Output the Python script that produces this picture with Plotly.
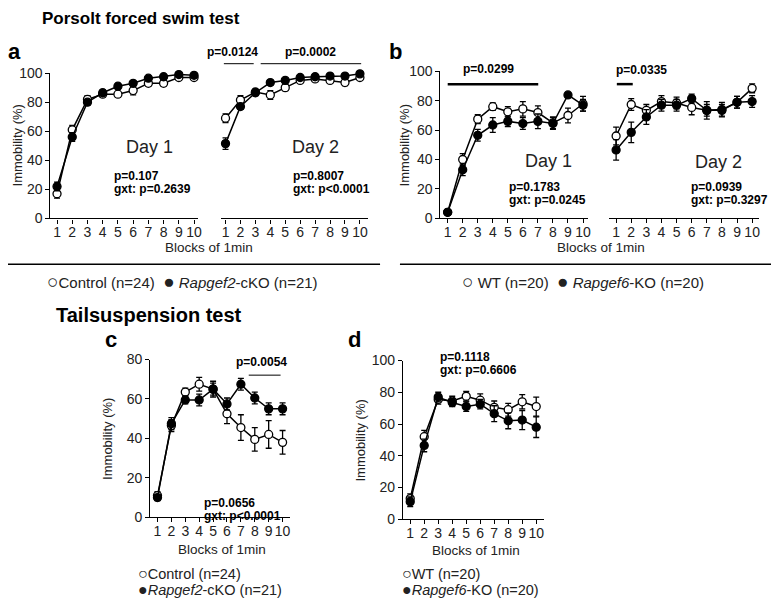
import plotly.graph_objects as go

# a página tem 8 px de margem; coordenadas abaixo estão em pixels da captura
W, H = 771, 599
OFF = 8

# blocos de 1 min
blocks = [1, 2, 3, 4, 5, 6, 7, 8, 9, 10]

# a: Porsolt, Control vs Rapgef2-cKO
a_d1_ctrl = [17, 61, 82, 85.5, 85.5, 88, 93, 93, 97, 97]
a_d1_ctrl_err = [3, 3, 2.5, 2, 2, 3, 2, 2, 1.5, 1.5]
a_d1_ko = [22, 56, 80, 86.5, 91, 93, 96.5, 97.5, 99, 98.5]
a_d1_ko_err = [3, 3, 2, 2, 2, 1.5, 1, 1, 1, 1]
a_d2_ctrl = [69, 81.5, 87, 85, 90, 95, 96, 95, 93.5, 97]
a_d2_ctrl_err = [3, 3, 2, 3, 2, 1.5, 1, 1.5, 2, 1]
a_d2_ko = [51.5, 77, 86.5, 93.5, 95, 97, 97.5, 98, 98, 99.5]
a_d2_ko_err = [4, 2, 2, 1.5, 1, 1, 1, 1, 1, 1]

# b: Porsolt, WT vs Rapgef6-KO
b_d1_wt = [4, 40, 67.5, 76, 72.5, 74.5, 72, 65, 70, 78]
b_d1_wt_err = [1, 4, 3, 2.5, 3.5, 5, 4.5, 4, 5, 5]
b_d1_ko = [4, 33, 56.5, 63.5, 66, 64.5, 66, 64.5, 84, 77]
b_d1_ko_err = [1, 4, 4, 5, 3.5, 4, 5, 4, 1.5, 4]
b_d2_wt = [56, 77.5, 73.5, 79.5, 78.5, 75.5, 73.5, 74, 79, 88.5]
b_d2_wt_err = [6, 4, 4, 4, 4, 5, 6, 5, 4, 3]
b_d2_ko = [46.5, 58.5, 69, 77, 77, 81.5, 73.5, 73.5, 79, 79.5]
b_d2_ko_err = [7, 7, 5, 4, 4, 3, 4, 4, 4, 4]

# c: tail suspension, Control vs Rapgef2-cKO
c_ctrl = [11, 46.5, 63.5, 67.5, 65, 52.5, 45.5, 39.5, 42, 38]
c_ctrl_err = [2, 3, 2, 3.5, 3, 5, 6.5, 6, 7, 6]
c_ko = [10, 47.5, 59.5, 59.5, 65, 57.5, 67.5, 60.5, 55, 55]
c_ko_err = [1.5, 3, 2, 3, 4, 3, 3, 3, 3, 3]

# d: tail suspension, WT vs Rapgef6-KO
d_wt = [13, 52, 75.5, 74.5, 77.5, 75, 70.5, 69, 74, 71]
d_wt_err = [3, 4, 3, 3, 3, 4, 4, 4, 4.5, 6]
d_ko = [11, 46.5, 77, 73.5, 71, 72.5, 66.5, 62, 62.5, 58]
d_ko_err = [3, 4, 3, 2.5, 3, 3, 5, 5, 6, 6.5]

FONT = "Liberation Sans, Arial, sans-serif"


def X(p):
    return (p - OFF) / W


def Y(p):
    return 1 - (p - OFF) / H


def serie(x, y, err, xa, ya, cheio):
    return go.Scatter(
        x=x, y=y, xaxis=xa, yaxis=ya, mode="lines+markers",
        line=dict(color="black", width=1.5),
        marker=dict(size=8, symbol="circle",
                    color="black" if cheio else "white",
                    line=dict(color="black", width=1.3)),
        error_y=dict(type="data", array=err, color="black", thickness=1.3, width=3),
        cliponaxis=False, showlegend=False,
    )


fig = go.Figure()
# abertos primeiro, cheios por cima
for xa, ya, yo, eo, yf, ef in [
    ("x", "y", a_d1_ctrl, a_d1_ctrl_err, a_d1_ko, a_d1_ko_err),
    ("x2", "y", a_d2_ctrl, a_d2_ctrl_err, a_d2_ko, a_d2_ko_err),
    ("x3", "y2", b_d1_wt, b_d1_wt_err, b_d1_ko, b_d1_ko_err),
    ("x4", "y2", b_d2_wt, b_d2_wt_err, b_d2_ko, b_d2_ko_err),
    ("x5", "y3", c_ctrl, c_ctrl_err, c_ko, c_ko_err),
    ("x6", "y4", d_wt, d_wt_err, d_ko, d_ko_err),
]:
    fig.add_trace(serie(blocks, yo, eo, xa, ya, False))
    fig.add_trace(serie(blocks, yf, ef, xa, ya, True))

eixo = dict(showline=True, linecolor="black", linewidth=1.2, ticks="outside",
            ticklen=4, tickwidth=1.2, tickcolor="black", showgrid=False,
            zeroline=False, tickfont=dict(size=14, color="#222", family=FONT))


def xax(l, r, rng, anchor):
    return dict(eixo, domain=[X(l), X(r)], range=rng, anchor=anchor,
                tickvals=blocks, ticklabelstandoff=-3)


def yax(b, t, rng, anchor, step):
    return dict(eixo, domain=[Y(b), Y(t)], range=rng, anchor=anchor,
                tickvals=list(range(0, rng[1] + 1, step)))


fig.update_layout(
    width=W, height=H, margin=dict(l=0, r=0, t=0, b=0),
    paper_bgcolor="white", plot_bgcolor="white",
    font=dict(family=FONT, color="#222"),
    xaxis=xax(50.7, 199, [0.57, 10.26], "y"),
    xaxis2=xax(221.7, 370, [0.67, 10.55], "y"),
    xaxis3=xax(442.7, 591, [0.52, 10.33], "y2"),
    xaxis4=xax(612, 763, [0.52, 10.46], "y2"),
    xaxis5=xax(151, 291, [0.48, 10.5], "y3"),
    xaxis6=xax(405, 547, [0.48, 10.57], "y4"),
    yaxis=yax(216, 66.7, [0, 100], "x", 20),
    yaxis2=yax(215.7, 65, [0, 100], "x3", 20),
    yaxis3=yax(523, 361, [0, 80], "x5", 20),
    yaxis4=yax(525, 362, [0, 100], "x6", 20),
)

anns = []


def txt(x, y, s, size=12, bold=False, anchor="center", angle=0):
    if bold:
        s = "<b>" + s + "</b>"
    anns.append(dict(x=X(x), y=Y(y), xref="paper", yref="paper", text=s,
                     showarrow=False, xanchor=anchor, yanchor="middle",
                     textangle=angle, font=dict(size=size, family=FONT,
                                                color="black" if bold else "#222")))


# títulos
txt(40, 11, "Porsolt forced swim test", 17, True, "left")
txt(54, 315, "Tailsuspension test", 20, True, "left")
txt(15, 44, "a", 22, True)
txt(398, 44, "b", 22, True)
txt(112, 340, "c", 22, True)
txt(356, 340, "d", 22, True)

# eixos
for x, y in [(17, 141), (407, 141), (108, 442), (362, 444)]:
    txt(x, y, "Immobility (%)", 13, angle=-90)
for x, y in [(210, 246), (604, 246), (223, 556), (478, 557)]:
    txt(x, y, "Blocks of 1min", 13.5)

# dias
txt(150, 143, "Day 1", 18)
txt(317, 143, "Day 2", 18)
txt(551, 157, "Day 1", 18)
txt(722, 158, "Day 2", 18)

# estatística
stats = [
    (113, 172, "p=0.107", "gxt: p=0.2639"),
    (292, 172, "p=0.8007", "gxt: p<0.0001"),
    (510, 184, "p=0.1783", "gxt: p=0.0245"),
    (693, 184, "p=0.0939", "gxt: p=0.3297"),
    (203, 508, "p=0.0656", "gxt: p<0.0001"),
    (440, 358, "p=0.1118", "gxt: p=0.6606"),
]
for x, y, s1, s2 in stats:
    txt(x, y, s1, 12, True, "left")
    txt(x, y + 13.5, s2, 12, True, "left")

txt(234, 45, "p=0.0124", 12, True)
txt(312, 45, "p=0.0002", 12, True)
txt(491, 62, "p=0.0299", 12, True)
txt(645, 63, "p=0.0335", 12, True)
txt(263, 363, "p=0.0054", 12, True)

# legendas
ab = '<span style="font-size:19px">○</span>'
fe = '<span style="font-size:19px">●</span>'
ab2 = '<span style="font-size:16px">○</span>'
fe2 = '<span style="font-size:16px">●</span>'
txt(183, 281, ab + "Control (n=24)  " + fe + " <i>Rapgef2</i>-cKO (n=21)", 15)
txt(586, 281, ab + " WT (n=20)  " + fe + " <i>Rapgef6</i>-KO (n=20)", 15)
txt(137, 581, ab2 + "Control (n=24)", 14.5, anchor="left")
txt(137, 597, fe2 + "<i>Rapgef2</i>-cKO (n=21)", 14.5, anchor="left")
txt(402, 581, ab2 + "WT (n=20)", 14.5, anchor="left")
txt(402, 597, fe2 + "<i>Rapgef6</i>-KO (n=20)", 14.5, anchor="left")

fig.update_layout(annotations=anns)

shapes = []


def linha(x0, x1, y, w):
    shapes.append(dict(type="line", xref="paper", yref="paper", x0=X(x0), x1=X(x1),
                       y0=Y(y), y1=Y(y), line=dict(color="black", width=w)))


# barras de significância
linha(225, 255, 57, 1)
linha(262, 363, 57, 1)
linha(450, 541, 78, 2.5)
linha(620, 636, 78, 2.5)
linha(250, 282, 377, 1)
# separadores
linha(8, 382, 263, 1.5)
linha(402, 779, 263, 1.5)

fig.update_layout(shapes=shapes)

fig.write_html("out.html")
